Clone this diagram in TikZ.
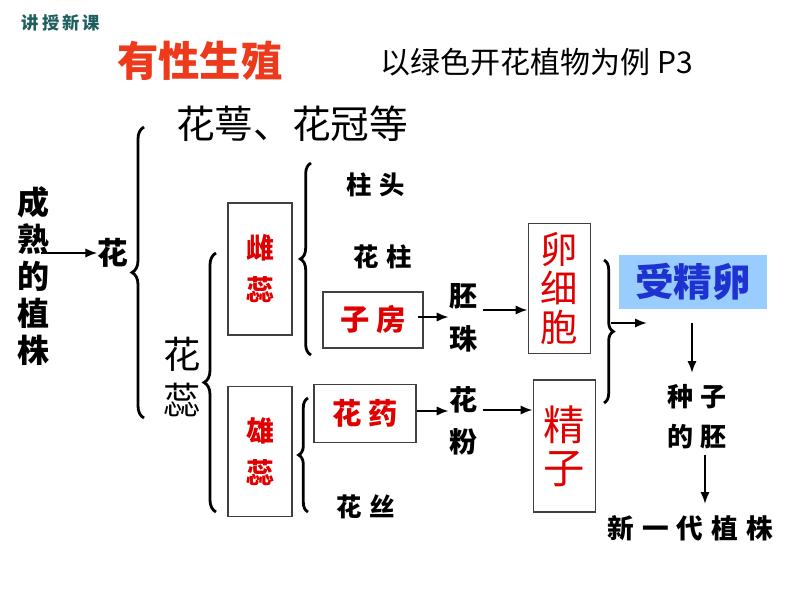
\documentclass[tikz,border=0pt]{standalone}
\usepackage{fontspec}
\setmainfont{Noto Sans CJK SC}
\newfontfamily\cjk{Noto Sans CJK SC}
\usetikzlibrary{arrows.meta,decorations.pathreplacing}
\definecolor{teal1}{HTML}{1F5F5F}
\definecolor{title}{HTML}{EE3A1C}
\definecolor{red1}{HTML}{E00000}
\definecolor{blue1}{HTML}{1E32D2}
\definecolor{bluefill}{HTML}{99CCFF}
\definecolor{boxline}{HTML}{404040}
\newcommand{\fpx}[2]{\fontsize{#1}{#2}\selectfont}
\tikzset{
  txt/.style={inner sep=0pt, align=center, text=black},
  boldtxt/.style={txt, font=\cjk\bfseries},
  box/.style={draw=boxline, line width=0.9pt, inner sep=0pt, align=center},
  arr/.style={line width=1.6pt, -{Latex[length=9pt,width=7pt]}},
  brace/.style={line width=2.1pt, decorate, decoration={brace, amplitude=#1}},
  brace/.default=8pt
}
\begin{document}
\begin{tikzpicture}[x=0.75pt,y=-0.75pt]
\useasboundingbox (0,0) rectangle (794,596);
\fill[white] (0,0) rectangle (794,596);
% header
\node[boldtxt, text=teal1, font=\cjk\bfseries\fpx{13}{13}] (hdr) at (61,23) {讲\,授\,新\,课};
\node[boldtxt, text=title, font=\cjk\bfseries\fpx{31}{31}] (ttl) at (200,61) {有性生殖};
\node[txt, font=\cjk\fpx{22.5}{22.5}] (sub) at (537,62) {以绿色开花植物为例 P3};
\node[txt, font=\cjk\fpx{29}{29}] (huae) at (292,124) {花萼、花冠等};
% left
\node[boldtxt, font=\cjk\bfseries\fpx{24}{27.8}] (plant) at (33,276) {成\\熟\\的\\植\\株};
\node[boldtxt, font=\cjk\bfseries\fpx{23}{23}] (hua) at (113,253) {花};
\draw[arr] ([xshift=-6pt]plant.east |- hua) -- (hua.west);
\coordinate (b1t) at (144,127);
\coordinate (b1b) at (144,418);
\draw[brace=9pt] (b1b) -- (b1t);
\node[txt, font=\cjk\fpx{28}{34}] (hr) at (182,377) {花\\蕊};
\coordinate (b2t) at (216,253);
\coordinate (b2b) at (216,512);
\draw[brace=9pt] (b2b) -- (b2t);
% pistil / stamen boxes
\node[box, minimum width=48pt, minimum height=99pt, text=red1, font=\cjk\bfseries\fpx{21}{31.5}] (ci) at (260,269) {雌\\蕊};
\node[box, minimum width=48pt, minimum height=98pt, text=red1, font=\cjk\bfseries\fpx{21}{31.5}] (xi) at (260,451.5) {雄\\蕊};
% pistil parts
\coordinate (b3t) at (311,163);
\coordinate (b3b) at (311,355);
\draw[brace=8pt] (b3b) -- (b3t);
\node[boldtxt, font=\cjk\bfseries\fpx{19}{19}] (zt) at (376,185) {柱\hspace{6pt}头};
\node[boldtxt, font=\cjk\bfseries\fpx{19}{19}] (hz) at (383,257) {花\hspace{6pt}柱};
\node[box, minimum width=75pt, minimum height=42pt, text=red1, font=\cjk\bfseries\fpx{22}{22}] (zf) at (373,320) {子\hspace{5pt}房};
\node[boldtxt, font=\cjk\bfseries\fpx{21}{32}] (pz) at (463,318) {胚\\珠};
\draw[arr] ([xshift=-4pt]zf.east |- 0,317) -- (pz.west |- 0,317);
% stamen parts
\coordinate (b4t) at (308,398);
\coordinate (b4b) at (308,512);
\draw[brace=7pt] (b4b) -- (b4t);
\node[box, minimum width=76.5pt, minimum height=43pt, text=red1, font=\cjk\bfseries\fpx{22}{22}] (hy) at (365,413.5) {花\hspace{5pt}药};
\node[boldtxt, font=\cjk\bfseries\fpx{19}{19}] (hs) at (366,507) {花\hspace{6pt}丝};
\node[boldtxt, font=\cjk\bfseries\fpx{21}{32}] (hf) at (463,421) {花\\粉};
\draw[arr] (hy.east |- 0,411) -- (hf.west |- 0,411);
% gametes
\node[box, minimum width=47pt, minimum height=98pt, text=red1, font=\cjk\fpx{28}{29.5}] (lxb) at (559.5,288.5) {卵\\细\\胞};
\node[box, minimum width=47pt, minimum height=99pt, text=red1, font=\cjk\fpx{31}{32.5}] (jz) at (564.5,446) {精\\子};
\draw[arr] ([xshift=4pt]pz.east |- 0,310) -- (lxb.west |- 0,310);
\draw[arr] ([xshift=4pt]hf.east |- 0,410) -- (jz.west |- 0,410);
% zygote
\coordinate (b5t) at (604,260);
\coordinate (b5b) at (604,403);
\draw[brace=7pt] (b5t) -- (b5b);
\coordinate (b5tip) at (611,323);
\node[fill=bluefill, minimum width=111pt, minimum height=40.5pt, inner sep=0pt, text=blue1, font=\cjk\bfseries\fpx{29}{29}] (sjl) at (693,282) {受精卵};
\draw[arr] (b5tip) -- (647,323);
\node[boldtxt, font=\cjk\bfseries\fpx{19.5}{30}] (zz) at (697,417) {种\hspace{5pt}子\\的\hspace{5pt}胚};
\coordinate (a1s) at (692,323);
\coordinate (a1e) at (692,373);
\draw[arr] (a1s) -- (a1e);
\node[boldtxt, font=\cjk\bfseries\fpx{20}{20}] (xyd) at (690,528) {新\hspace{6pt}一\hspace{6pt}代\hspace{6pt}植\hspace{6pt}株};
\coordinate (a2s) at (705,455);
\coordinate (a2e) at (705,504);
\draw[arr] (a2s) -- (a2e);
\end{tikzpicture}
\end{document}
